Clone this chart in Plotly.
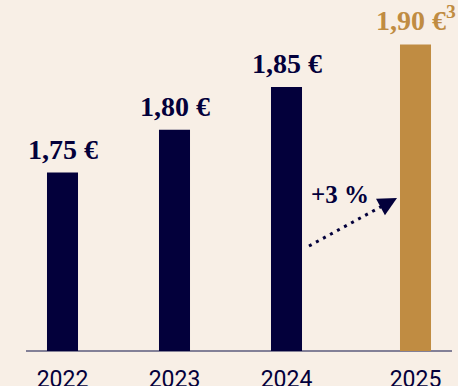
import plotly.graph_objects as go

years = ["2022", "2023", "2024", "2025"]
values = [1.75, 1.80, 1.85, 1.90]
value_labels = ["1,75 €", "1,80 €", "1,85 €", "1,90 €<sup>3</sup>"]
growth_label = "+3 %"

NAVY = "#03003b"
GOLD = "#c08c42"
BG = "#f8efe6"
W, H = 458, 386
BASE_PX = 351  # baseline pixel row

fig = go.Figure()
fig.add_trace(go.Bar(x=years[:3], y=values[:3], marker_color=NAVY, width=0.277,
                     xaxis="x", yaxis="y", hoverinfo="skip"))
fig.add_trace(go.Bar(x=years[3:], y=values[3:], marker_color=GOLD, width=0.365,
                     xaxis="x2", yaxis="y", hoverinfo="skip"))

tick_font = dict(family="Roboto", size=23, color=NAVY)

def xaxis_cfg(domain, cats):
    return dict(domain=domain, anchor="y", type="category",
                categoryorder="array", categoryarray=cats,
                range=[-0.5, len(cats) - 0.5],
                showgrid=False, zeroline=False, showline=False,
                ticks="outside", ticklen=7, tickcolor="rgba(0,0,0,0)",
                tickfont=tick_font, automargin=False, fixedrange=True)

annotations = []
for i, (yr, v, lab) in enumerate(zip(years, values, value_labels)):
    annotations.append(dict(
        x=i if i < 3 else 0, y=v, xref="x" if i < 3 else "x2", yref="y",
        text=lab, showarrow=False, xanchor="center", yanchor="bottom", yshift=6,
        font=dict(family="Liberation Serif", size=28,
                  color=NAVY if i < 3 else GOLD, weight="bold")))

def px(x):
    return x / W

def py(y):
    return (BASE_PX - y) / BASE_PX

annotations.append(dict(x=px(340), y=py(194), xref="paper", yref="paper",
                        xanchor="center", yanchor="middle",
                        text=growth_label, showarrow=False,
                        font=dict(family="Liberation Serif", size=25, color=NAVY, weight="bold")))
# arrow head
annotations.append(dict(x=px(397), y=py(198), xref="paper", yref="paper", text=" ",
                        xanchor="center", yanchor="middle",
                        showarrow=True, arrowhead=2, arrowsize=1.5, arrowwidth=2.5,
                        arrowcolor=NAVY, ax=-13, ay=7, standoff=0))

shapes = [
    dict(type="line", xref="paper", yref="paper", x0=px(26), x1=px(452), y0=0, y1=0,
         line=dict(color="#5c5b7c", width=1.5), layer="below"),
    dict(type="line", xref="paper", yref="paper", x0=px(309), y0=py(246), x1=px(386), y1=py(204),
         line=dict(color=NAVY, width=3, dash="3px,5px")),
]

fig.update_layout(
    width=W, height=H,
    margin=dict(l=0, r=0, t=0, b=H - BASE_PX),
    paper_bgcolor=BG, plot_bgcolor=BG,
    showlegend=False, template="none",
    xaxis=xaxis_cfg([6.5 / W, 342.5 / W], years[:3]),
    xaxis2=xaxis_cfg([373 / W, 1.0], years[3:]),
    yaxis=dict(range=[1.541, 1.952], visible=False, fixedrange=True),
    annotations=annotations, shapes=shapes,
)

fig.write_html("out.html", config={"displayModeBar": False})
